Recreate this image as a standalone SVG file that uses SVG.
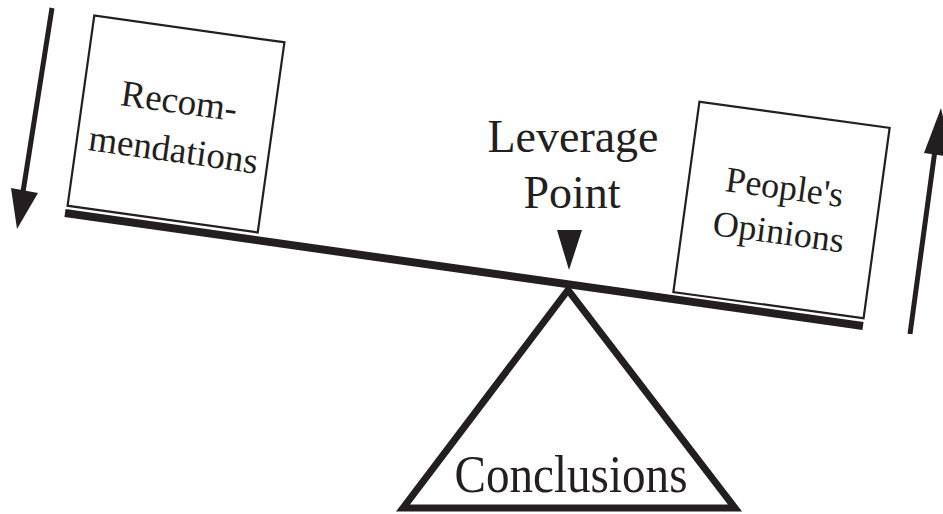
<svg xmlns="http://www.w3.org/2000/svg" width="943" height="514" viewBox="0 0 943 514">
<style>
.box{fill:#fff;stroke:#231f20;stroke-width:2.2}
.lbl{font-family:"Liberation Serif","Times New Roman",serif;fill:#231f20;text-anchor:middle}
.ink{fill:#231f20}
</style>
<rect width="943" height="514" fill="#fff"/>
<g id="beam">
<line x1="65" y1="213" x2="863" y2="326" stroke="#231f20" stroke-width="8"/>
</g>
<g id="recommendations">
<g transform="translate(176,124) rotate(8)">
<rect class="box" x="-96" y="-96" width="192" height="192"/>
<text class="lbl" x="0" y="-11" font-size="37">Recom-</text>
<text class="lbl" x="1" y="38" font-size="37">mendations</text>
</g>
</g>
<g id="opinions">
<g transform="translate(781.5,210) rotate(7.8)">
<rect class="box" x="-96" y="-96" width="192" height="192"/>
<text class="lbl" x="0" y="-11" font-size="36">People's</text>
<text class="lbl" x="0" y="34" font-size="36">Opinions</text>
</g>
</g>
<g id="leverage-point">
<text class="lbl" x="573" y="152" font-size="46">Leverage</text>
<text class="lbl" x="572" y="208" font-size="46">Point</text>
<polygon class="ink" points="557,230 582,230 569,270"/>
</g>
<g id="conclusions">
<path d="M568,290 L403,508 L735,508 Z" fill="none" stroke="#231f20" stroke-width="7" stroke-linejoin="miter"/>
<text class="lbl" x="571" y="492" font-size="53" textLength="233" lengthAdjust="spacingAndGlyphs">Conclusions</text>
</g>
<g id="connectors">
<line x1="52" y1="8" x2="23" y2="192" stroke="#231f20" stroke-width="5"/>
<polygon class="ink" points="11,188 38,193 17,229"/>
<line x1="910" y1="334" x2="935" y2="150" stroke="#231f20" stroke-width="5"/>
<polygon class="ink" points="924,153 952,157 941,108"/>
</g>
</svg>
